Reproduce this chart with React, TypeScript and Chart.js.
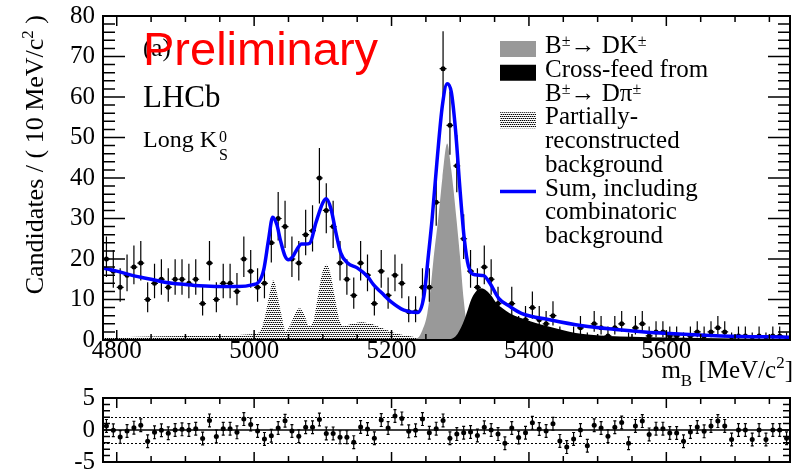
import React, { useEffect, useRef } from 'react';
import { Chart, registerables } from 'chart.js';

Chart.register(...registerables);

const SERIF = "'Liberation Serif', 'Times New Roman', serif";
const SANS = "'Liberation Sans', Arial, sans-serif";

// ---------- axes ----------
const X_MIN = 4780;
const X_MAX = 5780;
const X_TICKS = [4800, 5000, 5200, 5400, 5600];
const Y_MIN = 0;
const Y_MAX = 80;
const Y_TICKS = [0, 10, 20, 30, 40, 50, 60, 70, 80];
const PULL_MIN = -5;
const PULL_MAX = 5;
const PULL_TICKS = [-5, 0, 5];
const PULL_GUIDES = [-2, 2];
const BIN_WIDTH = 10;

// ---------- data (10 MeV bins) ----------
const BIN_CENTERS = [
  4785, 4795, 4805, 4815, 4825, 4835, 4845, 4855, 4865, 4875,
  4885, 4895, 4905, 4915, 4925, 4935, 4945, 4955, 4965, 4975,
  4985, 4995, 5005, 5015, 5025, 5035, 5045, 5055, 5065, 5075,
  5085, 5095, 5105, 5115, 5125, 5135, 5145, 5155, 5165, 5175,
  5185, 5195, 5205, 5215, 5225, 5235, 5245, 5255, 5265, 5275,
  5285, 5295, 5305, 5315, 5325, 5335, 5345, 5355, 5365, 5375,
  5385, 5395, 5405, 5415, 5425, 5435, 5445, 5455, 5465, 5475,
  5485, 5495, 5505, 5515, 5525, 5535, 5545, 5555, 5565, 5575,
  5585, 5595, 5605, 5615, 5625, 5635, 5645, 5655, 5665, 5675,
  5685, 5695, 5705, 5715, 5725, 5735, 5745, 5755, 5765, 5775,
];
const COUNTS = [
  20, 17, 13, 16, 18, 19, 10, 14, 15, 13,
  15, 15, 14, 15, 9, 19, 10, 14, 14, 12,
  20, 17, 13, 14, 24, 30, 28, 20, 19, 26,
  27, 40, 32, 28, 19, 15, 11, 19, 16, 9,
  17, 11, 16, 14, 7, 7, 13, 13, 34, 67,
  53, 43, 25, 17, 13, 18, 15, 9, 3, 9,
  3, 5, 8, 5, 4, 6, 1, 0, 1, 3,
  0, 4, 3, 1, 3, 4, 0, 3, 4, 1,
  2, 2, 1, 1, 0, 1, 2, 1, 2, 3,
  2, 0, 1, 1, 0, 1, 0, 1, 1, 0,
];
const PULLS = [
  0.64, -0.05, -1.1, -0.16, 0.37, 0.75, -1.76, -0.37, -0.05, -0.5,
  0, 0.1, 0, 0.2, -1.33, 1.5, -1.0, 0.2, 0.2, -0.37,
  1.7, 0.85, -0.16, -1.39, -0.9, 0.32, 1.44, -0.16, -0.96, 0.43,
  0.43, 1.65, -0.53, -0.53, -1.12, -1.12, -1.9, 0.48, 0.16, -1.28,
  1.55, 0.32, 2.19, 1.81, -0.21, -0.05, 1.7, -0.43, 0.21, 1.5,
  -1.28, -0.64, -0.43, -0.32, -0.85, 0.43, 0, -0.64, -2.08, 0.32,
  -1.17, -0.43, 1.12, 0.16, -0.16, 0.96, -1.7, -2.67, -1.39, 0,
  -2.45, 0.75, 0.32, -0.96, 0.43, 1.17, -2.08, 0.64, 1.39, -0.69,
  0.21, 0.21, -0.48, -0.48, -1.76, -0.32, 0.48, -0.21, 0.64, 1.39,
  0.64, -1.49, 0, 0, -1.49, 0, -1.49, 0, 0, -1.28,
];

// ---------- fit curves ----------
const SUM_M = [
  4780, 4800, 4824, 4850, 4872, 4900, 4920, 4950, 4977, 4997,
  5007, 5014, 5021, 5027, 5033, 5038, 5045, 5050, 5056, 5062,
  5069, 5075, 5081, 5090, 5100, 5105, 5112, 5119, 5126, 5136,
  5150, 5165, 5174, 5186, 5199, 5218, 5238, 5247, 5254, 5259,
  5266, 5274, 5281, 5287, 5293, 5300, 5306, 5312, 5322, 5334,
  5343, 5356, 5372, 5389, 5430, 5478, 5526, 5591, 5680, 5780,
];
const SUM_V = [
  17.8, 17.0, 15.9, 15.0, 14.2, 13.7, 13.4, 13.2, 13.2, 13.6,
  14.4, 17.4, 24.8, 30.3, 28.5, 24.8, 20.7, 19.8, 20.5, 22.3,
  23.7, 23.7, 23.9, 29.0, 33.9, 34.9, 32.3, 26.5, 21.5, 19.0,
  17.8, 15.7, 13.6, 11.6, 9.5, 7.4, 6.8, 10.7, 21.5, 29.8,
  43.8, 57.9, 63.3, 61.2, 52.1, 36.4, 24.8, 18.2, 16.1, 15.9,
  14.1, 10.3, 8.3, 6.6, 5.0, 3.5, 2.6, 1.7, 1.0, 0.7,
];
const SIG_M = [5225, 5238, 5245, 5252, 5257, 5262, 5268, 5274, 5281, 5287, 5290, 5295, 5300, 5305, 5310, 5316, 5325];
const SIG_V = [0, 0.5, 2.5, 6.5, 13, 21.5, 30, 40, 48.5, 42, 37.5, 29, 20, 10, 3.5, 0.8, 0];
const XF_M = [
  5280, 5290, 5296, 5301, 5306, 5311, 5316, 5322, 5330, 5336,
  5345, 5353, 5362, 5372, 5385, 5396, 5410, 5430, 5450, 5468,
  5490, 5516, 5550, 5600, 5650, 5700, 5780,
];
const XF_V = [
  0, 0.5, 1.5, 3, 5, 7.5, 10, 11.8, 12.8, 12.5,
  11, 9.1, 7.8, 6.6, 5.6, 5.0, 4.2, 3.3, 2.4, 1.7,
  1.3, 1.0, 0.8, 0.6, 0.5, 0.4, 0.3,
];
const PR_M = [
  4780, 4830, 4900, 4960, 4995, 5008, 5016, 5022, 5028, 5034,
  5040, 5046, 5052, 5059, 5066, 5073, 5080, 5086, 5093, 5099,
  5105, 5111, 5117, 5124, 5130, 5140, 5155, 5170, 5185, 5200,
  5215, 5235, 5255, 5275,
];
const PR_V = [
  0.6, 0.8, 1.0, 1.1, 1.4, 2.0, 6, 11, 14.8, 11,
  6, 2.2, 3.5, 6.2, 7.9, 6.2, 3.5, 4.5, 11, 16.5,
  18.6, 16.5, 11, 5, 3.4, 3.9, 4.4, 4.0, 3.0, 2.0,
  1.3, 0.7, 0.3, 0,
];

// ---------- text ----------
type Seg = { t: string; size?: number; dy?: number };
const Y_TITLE: Seg[] = [
  { t: 'Candidates / ( 10 MeV/c' },
  { t: '2', size: 17, dy: -10 },
  { t: ' )' },
];
const X_TITLE: Seg[] = [
  { t: 'm' },
  { t: 'B', size: 17, dy: 8 },
  { t: ' [MeV/c' },
  { t: '2', size: 17, dy: -10 },
  { t: ']' },
];
const LEGEND_LINES: Seg[][] = [
  [{ t: 'B' }, { t: '±', size: 16, dy: -7 }, { t: '→ DK' }, { t: '±', size: 16, dy: -7 }],
  [{ t: 'Cross-feed from' }],
  [{ t: 'B' }, { t: '±', size: 16, dy: -7 }, { t: '→ Dπ' }, { t: '±', size: 16, dy: -7 }],
  [{ t: 'Partially-' }],
  [{ t: 'reconstructed' }],
  [{ t: 'background' }],
  [{ t: 'Sum, including' }],
  [{ t: 'combinatoric' }],
  [{ t: 'background' }],
];

function drawRich(ctx: CanvasRenderingContext2D, segs: Seg[], x: number, y: number, base: number, family: string, align: 'left' | 'right' = 'left') {
  let w = 0;
  const widths: number[] = [];
  for (const s of segs) {
    ctx.font = `${s.size ?? base}px ${family}`;
    const sw = ctx.measureText(s.t).width;
    widths.push(sw);
    w += sw;
  }
  let cx = align === 'right' ? x - w : x;
  ctx.textAlign = 'left';
  ctx.textBaseline = 'alphabetic';
  segs.forEach((s, i) => {
    ctx.font = `${s.size ?? base}px ${family}`;
    ctx.fillText(s.t, cx, y + (s.dy ?? 0));
    cx += widths[i];
  });
}

type TickCfg = {
  xMinor: number; xMajor: number; xMinorLen: number; xMajorLen: number;
  yMinor: number; yMajor: number; yMinorLen: number; yMajorLen: number;
  tickWidth: number; frameWidth: number;
};

function isMultiple(v: number, step: number) {
  return Math.abs(v / step - Math.round(v / step)) < 1e-6;
}

function drawFrameTicks(chart: any, cfg: TickCfg) {
  const { ctx, chartArea } = chart;
  const xs = chart.scales.x;
  const ys = chart.scales.y;
  const { left, right, top, bottom } = chartArea;
  ctx.save();
  ctx.strokeStyle = '#000';
  ctx.lineWidth = cfg.tickWidth;
  ctx.beginPath();
  for (let v = Math.ceil(xs.min / cfg.xMinor) * cfg.xMinor; v <= xs.max + 1e-9; v += cfg.xMinor) {
    const p = xs.getPixelForValue(v);
    const len = isMultiple(v, cfg.xMajor) ? cfg.xMajorLen : cfg.xMinorLen;
    ctx.moveTo(p, bottom); ctx.lineTo(p, bottom - len);
    ctx.moveTo(p, top); ctx.lineTo(p, top + len);
  }
  for (let v = Math.ceil(ys.min / cfg.yMinor) * cfg.yMinor; v <= ys.max + 1e-9; v += cfg.yMinor) {
    const p = ys.getPixelForValue(v);
    const len = isMultiple(v, cfg.yMajor) ? cfg.yMajorLen : cfg.yMinorLen;
    ctx.moveTo(left, p); ctx.lineTo(left + len, p);
    ctx.moveTo(right, p); ctx.lineTo(right - len, p);
  }
  ctx.stroke();
  ctx.lineWidth = cfg.frameWidth;
  ctx.strokeRect(left, top, right - left, bottom - top);
  ctx.restore();
}

function makePattern(): CanvasPattern | string {
  const c = document.createElement('canvas');
  c.width = 4;
  c.height = 4;
  const g = c.getContext('2d');
  if (!g) return '#888';
  g.fillStyle = '#000';
  g.fillRect(0, 0, 1, 1);
  g.fillRect(2, 0, 1, 1);
  g.fillRect(1, 2, 1, 1);
  g.fillRect(3, 2, 1, 1);
  g.fillStyle = 'rgba(0,0,0,0.35)';
  g.fillRect(1, 0, 1, 1);
  g.fillRect(3, 0, 1, 1);
  g.fillRect(0, 2, 1, 1);
  g.fillRect(2, 2, 1, 1);
  const p = g.createPattern(c, 'repeat');
  return p ?? '#888';
}

const toXY = (xs: number[], ys: number[]) => xs.map((x, i) => ({ x, y: ys[i] }));

export default function App() {
  const mainRef = useRef<HTMLCanvasElement>(null);
  const resRef = useRef<HTMLCanvasElement>(null);

  useEffect(() => {
    if (!mainRef.current || !resRef.current) return;
    Chart.defaults.font.family = SERIF;
    Chart.defaults.color = '#000';
    const pattern = makePattern();

    const mainTicks: TickCfg = {
      xMinor: 50, xMajor: 200, xMinorLen: 6, xMajorLen: 10,
      yMinor: 2, yMajor: 10, yMinorLen: 12, yMajorLen: 22,
      tickWidth: 1.5, frameWidth: 2,
    };
    const resTicks: TickCfg = {
      xMinor: 50, xMajor: 200, xMinorLen: 6, xMajorLen: 10,
      yMinor: 1, yMajor: 5, yMinorLen: 7, yMajorLen: 13,
      tickWidth: 1.5, frameWidth: 2,
    };

    const mainDecor = {
      id: 'mainDecor',
      afterDatasetDraw(chart: any, args: any) {
        if (chart.data.datasets[args.index].label !== 'Data') return;
        const { ctx, chartArea } = chart;
        const xs = chart.scales.x;
        const ys = chart.scales.y;
        ctx.save();
        ctx.beginPath();
        ctx.rect(chartArea.left, chartArea.top, chartArea.right - chartArea.left, chartArea.bottom - chartArea.top);
        ctx.clip();
        ctx.strokeStyle = '#000';
        ctx.lineWidth = 1.2;
        BIN_CENTERS.forEach((m, i) => {
          const n = COUNTS[i];
          const lo = n > 0 ? Math.sqrt(n - 0.25) : 0;
          const hi = 1 + Math.sqrt(n + 0.75);
          const px = xs.getPixelForValue(m);
          const py = ys.getPixelForValue(n);
          ctx.beginPath();
          ctx.moveTo(px, ys.getPixelForValue(n - lo));
          ctx.lineTo(px, ys.getPixelForValue(n + hi));
          ctx.moveTo(xs.getPixelForValue(m - BIN_WIDTH / 2), py);
          ctx.lineTo(xs.getPixelForValue(m + BIN_WIDTH / 2), py);
          ctx.stroke();
        });
        ctx.restore();
      },
      afterDraw(chart: any) {
        const { ctx } = chart;
        drawFrameTicks(chart, mainTicks);
        ctx.save();
        ctx.fillStyle = '#000';
        // axis titles
        ctx.save();
        ctx.translate(43, 15);
        ctx.rotate(-Math.PI / 2);
        drawRich(ctx, Y_TITLE, 0, 0, 26, SERIF, 'right');
        ctx.restore();
        drawRich(ctx, X_TITLE, 793, 378, 25, SERIF, 'right');
        // labels
        drawRich(ctx, [{ t: '(a)' }], 143, 56, 25, SERIF);
        ctx.fillStyle = '#ff0000';
        drawRich(ctx, [{ t: 'Preliminary' }], 143, 65, 47, SANS);
        ctx.fillStyle = '#000';
        drawRich(ctx, [{ t: 'LHCb' }], 143, 107, 31, SERIF);
        ctx.font = `24px ${SERIF}`;
        const lw = ctx.measureText('Long K').width;
        drawRich(ctx, [{ t: 'Long K' }], 143, 147, 24, SERIF);
        drawRich(ctx, [{ t: '0' }], 143 + lw + 2, 142, 16, SERIF);
        drawRich(ctx, [{ t: 'S' }], 143 + lw + 2, 160, 16, SERIF);
        // legend
        const base0 = 53;
        const step = 23.75;
        const bx = 500;
        const bw = 36;
        LEGEND_LINES.forEach((segs, i) => {
          drawRich(ctx, segs, 545, base0 + step * i, 25, SERIF);
        });
        ctx.fillStyle = '#999999';
        ctx.fillRect(bx, base0 - 12, bw, 16);
        ctx.fillStyle = '#000';
        ctx.fillRect(bx, base0 + step - 12, bw, 16);
        ctx.fillStyle = pattern as any;
        ctx.fillRect(bx, base0 + step * 3 - 12, bw, 16);
        ctx.strokeStyle = '#0000ff';
        ctx.lineWidth = 3.5;
        ctx.beginPath();
        ctx.moveTo(bx, base0 + step * 6 - 4);
        ctx.lineTo(bx + bw, base0 + step * 6 - 4);
        ctx.stroke();
        ctx.restore();
      },
    };

    const main = new Chart(mainRef.current, {
      type: 'line',
      data: {
        datasets: [
          {
            label: 'Sum',
            data: toXY(SUM_M, SUM_V),
            borderColor: '#0000ff',
            borderWidth: 3.5,
            pointRadius: 0,
            fill: false,
            cubicInterpolationMode: 'monotone',
            order: 0,
          } as any,
          {
            label: 'Data',
            data: toXY(BIN_CENTERS, COUNTS),
            showLine: false,
            pointRadius: 2.5,
            pointBackgroundColor: '#000',
            pointBorderColor: '#000',
            pointBorderWidth: 0,
            order: 1,
          },
          {
            label: 'CrossFeed',
            data: toXY(XF_M, XF_V),
            borderColor: 'rgba(0,0,0,0)',
            borderWidth: 0,
            backgroundColor: '#000',
            pointRadius: 0,
            fill: 'origin',
            cubicInterpolationMode: 'monotone',
            order: 2,
          },
          {
            label: 'Signal',
            data: toXY(SIG_M, SIG_V),
            borderColor: 'rgba(0,0,0,0)',
            borderWidth: 0,
            backgroundColor: '#999999',
            pointRadius: 0,
            fill: 'origin',
            cubicInterpolationMode: 'monotone',
            order: 3,
          },
          {
            label: 'PartReco',
            data: toXY(PR_M, PR_V),
            borderColor: 'rgba(0,0,0,0)',
            borderWidth: 0,
            backgroundColor: pattern as any,
            pointRadius: 0,
            fill: 'origin',
            cubicInterpolationMode: 'monotone',
            order: 4,
          },
        ],
      },
      options: {
        responsive: false,
        animation: false,
        devicePixelRatio: 1,
        events: [],
        layout: { padding: { left: 0, right: 1, top: 16, bottom: 0 } },
        plugins: { legend: { display: false }, tooltip: { enabled: false } },
        scales: {
          x: {
            type: 'linear',
            min: X_MIN,
            max: X_MAX,
            afterBuildTicks: (s: any) => { s.ticks = X_TICKS.map((v) => ({ value: v })); },
            afterFit: (s: any) => { s.height = 52; s.paddingLeft = 0; s.paddingRight = 0; },
            ticks: {
              callback: (v: any) => String(v),
              font: { family: SERIF, size: 25, lineHeight: 1 },
              color: '#000',
              padding: -1,
              maxRotation: 0,
              autoSkip: false,
            },
            grid: { display: false, drawTicks: false },
            border: { display: false },
          },
          y: {
            type: 'linear',
            min: Y_MIN,
            max: Y_MAX,
            afterBuildTicks: (s: any) => { s.ticks = Y_TICKS.map((v) => ({ value: v })); },
            afterFit: (s: any) => { s.width = 103; s.paddingTop = 0; s.paddingBottom = 0; },
            ticks: {
              callback: (v: any) => String(v),
              font: { family: SERIF, size: 25, lineHeight: 1 },
              color: '#000',
              padding: 8,
              autoSkip: false,
            },
            grid: { display: false, drawTicks: false },
            border: { display: false },
          },
        },
      },
      plugins: [mainDecor],
    } as any);

    const resDecor = {
      id: 'resDecor',
      beforeDatasetsDraw(chart: any) {
        const { ctx, chartArea } = chart;
        const ys = chart.scales.y;
        ctx.save();
        ctx.strokeStyle = '#000';
        ctx.lineWidth = 1;
        ctx.setLineDash([2, 2]);
        PULL_GUIDES.forEach((g) => {
          const p = Math.round(ys.getPixelForValue(g)) + 0.5;
          ctx.beginPath();
          ctx.moveTo(chartArea.left, p);
          ctx.lineTo(chartArea.right, p);
          ctx.stroke();
        });
        ctx.setLineDash([]);
        ctx.lineWidth = 1.5;
        const z = ys.getPixelForValue(0);
        ctx.beginPath();
        ctx.moveTo(chartArea.left, z);
        ctx.lineTo(chartArea.right, z);
        ctx.stroke();
        // error bars (+-1)
        const xs = chart.scales.x;
        ctx.lineWidth = 1.2;
        BIN_CENTERS.forEach((m, i) => {
          const px = xs.getPixelForValue(m);
          const a = ys.getPixelForValue(PULLS[i] - 1);
          const b = ys.getPixelForValue(PULLS[i] + 1);
          ctx.beginPath();
          ctx.moveTo(px, a); ctx.lineTo(px, b);
          ctx.moveTo(px - 1.5, a); ctx.lineTo(px + 1.5, a);
          ctx.moveTo(px - 1.5, b); ctx.lineTo(px + 1.5, b);
          ctx.stroke();
        });
        ctx.restore();
      },
      afterDraw(chart: any) {
        drawFrameTicks(chart, resTicks);
      },
    };

    const res = new Chart(resRef.current, {
      type: 'line',
      data: {
        datasets: [
          {
            label: 'Pull',
            data: toXY(BIN_CENTERS, PULLS),
            showLine: false,
            pointRadius: 2.5,
            pointBackgroundColor: '#000',
            pointBorderColor: '#000',
            pointBorderWidth: 0,
          },
        ],
      },
      options: {
        responsive: false,
        animation: false,
        devicePixelRatio: 1,
        events: [],
        layout: { padding: { left: 0, right: 1, top: 18, bottom: 0 } },
        plugins: { legend: { display: false }, tooltip: { enabled: false } },
        scales: {
          x: {
            type: 'linear',
            min: X_MIN,
            max: X_MAX,
            afterBuildTicks: (s: any) => { s.ticks = X_TICKS.map((v) => ({ value: v })); },
            afterFit: (s: any) => { s.height = 10; s.paddingLeft = 0; s.paddingRight = 0; },
            ticks: { display: false },
            grid: { display: false, drawTicks: false },
            border: { display: false },
          },
          y: {
            type: 'linear',
            min: PULL_MIN,
            max: PULL_MAX,
            afterBuildTicks: (s: any) => { s.ticks = PULL_TICKS.map((v) => ({ value: v })); },
            afterFit: (s: any) => { s.width = 103; s.paddingTop = 0; s.paddingBottom = 0; },
            ticks: {
              callback: (v: any) => String(v),
              font: { family: SERIF, size: 25, lineHeight: 1 },
              color: '#000',
              padding: 8,
              autoSkip: false,
            },
            grid: { display: false, drawTicks: false },
            border: { display: false },
          },
        },
      },
      plugins: [resDecor],
    } as any);

    return () => {
      main.destroy();
      res.destroy();
    };
  }, []);

  return (
    <div style={{ position: 'fixed', left: 0, top: 0, width: 794, height: 472, background: '#fff', overflow: 'hidden' }}>
      <canvas ref={mainRef} width={794} height={392} style={{ position: 'absolute', left: 0, top: 0 }} />
      <canvas ref={resRef} width={794} height={92} style={{ position: 'absolute', left: 0, top: 380 }} />
    </div>
  );
}
